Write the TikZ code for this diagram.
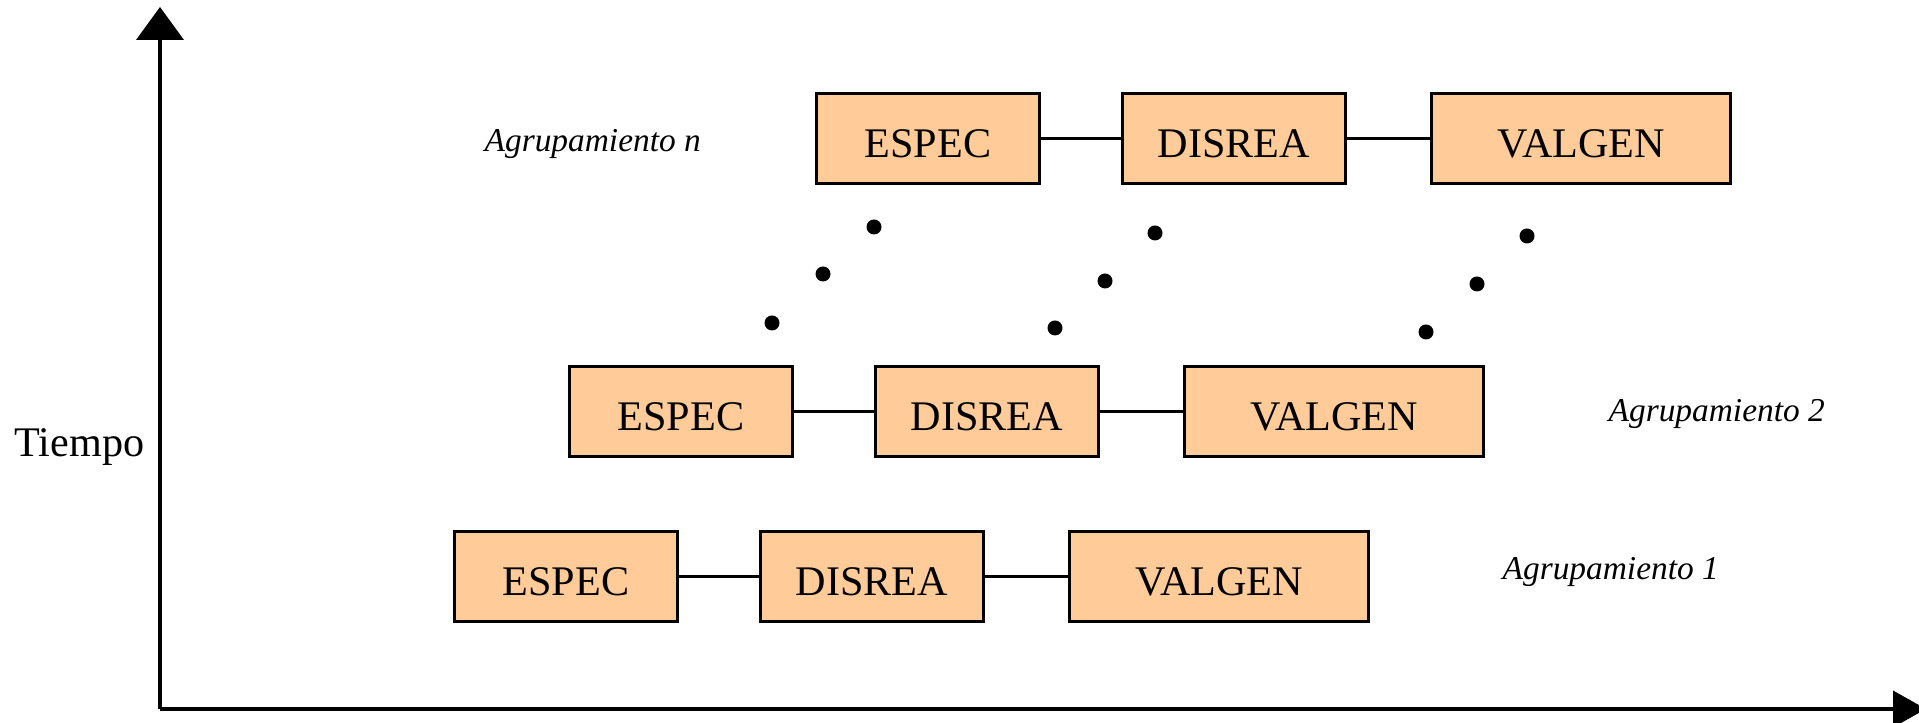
\documentclass[tikz,border=0pt]{standalone}
\usepackage{fontspec}
\setmainfont{Liberation Serif}
\usetikzlibrary{positioning, arrows.meta}

\definecolor{fase}{HTML}{FFCC99}

\begin{document}
\begin{tikzpicture}[node distance=0.80cm,
    fase/.style={draw, line width=0.85pt, fill=fase, minimum width=2.23cm,
      minimum height=0.9cm, inner sep=0pt, text height=0.38cm, text depth=0pt,
      font=\fontsize{12}{14}\selectfont},
    ancha/.style={fase, minimum width=2.99cm},
    enlace/.style={line width=0.85pt},
    etiqueta/.style={anchor=base west, inner sep=0pt, font=\fontsize{9.5}{11}\selectfont\itshape},
    eje/.style={line width=1.1pt}]
        \useasboundingbox (0,0) rectangle (19.19,7.23);

        % ejes
        \coordinate (o) at (1.60,0.14);
        \coordinate (arriba) at (1.60,7.16);
        \coordinate (derecha) at (19.26,0.14);
        \draw[eje, -{Triangle[length=0.33cm, width=0.47cm]}] (o) -- (arriba);
        \draw[eje, -{Triangle[length=0.33cm, width=0.36cm]}] (o) -- (derecha);
        \node[anchor=base west, inner sep=0pt, font=\fontsize{12}{14}\selectfont] (tiempo) at (0.14,2.66) {Tiempo};

        % agrupamiento n
        \node[fase, anchor=west]  (espn) at (8.15,5.84) {ESPEC};
        \node[fase]               (disn) [right=of espn] {DISREA};
        \node[ancha]              (valn) [right=0.83cm of disn] {VALGEN};
        \node[etiqueta] (agrn) at (4.84,5.71) {Agrupamiento n};

        % agrupamiento 2
        \node[fase, anchor=west]  (esp2) at (5.68,3.115) {ESPEC};
        \node[fase]               (dis2) [right=of esp2] {DISREA};
        \node[ancha]              (val2) [right=0.83cm of dis2] {VALGEN};
        \node[etiqueta] (agr2) at (16.08,3.01) {Agrupamiento 2};

        % agrupamiento 1
        \node[fase, anchor=west]  (esp1) at (4.53,1.46) {ESPEC};
        \node[fase]               (dis1) [right=of esp1] {DISREA};
        \node[ancha]              (val1) [right=0.83cm of dis1] {VALGEN};
        \node[etiqueta] (agr1) at (15.02,1.43) {Agrupamiento 1};

        \path[enlace]
          (espn) edge (disn)
          (disn) edge (valn)
          (esp2) edge (dis2)
          (dis2) edge (val2)
          (esp1) edge (dis1)
          (dis1) edge (val1);

        % puntos suspensivos
        \foreach \x/\y in {7.72/4.00, 8.23/4.49, 8.74/4.96,
                           10.55/3.95, 11.05/4.42, 11.55/4.90,
                           14.26/3.91, 14.77/4.39, 15.27/4.87}
          \fill (\x,\y) circle (0.075);
      \end{tikzpicture}
\end{document}
